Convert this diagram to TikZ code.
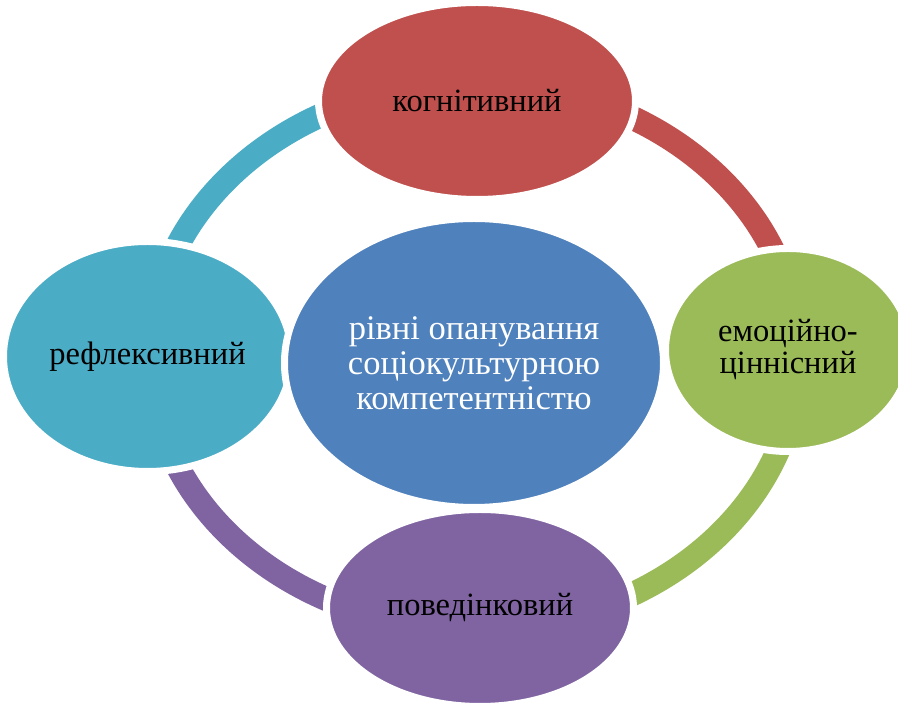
\documentclass[tikz,border=0pt]{standalone}
\usepackage{fontspec}
\setmainfont{Liberation Serif}
\usetikzlibrary{shapes.geometric}
\definecolor{cred}{HTML}{C0504D}
\definecolor{cgreen}{HTML}{9BBB59}
\definecolor{cpurple}{HTML}{8064A2}
\definecolor{ccyan}{HTML}{4BACC6}
\definecolor{cblue}{HTML}{4F81BD}
\begin{document}
\begin{tikzpicture}[x=1pt,y=1pt,
  bub/.style={ellipse, draw=white, line width=7pt, inner sep=0pt, align=center,
    font=\fontsize{32.5}{32}\selectfont, text=black},
  ring/.style={line width=24pt}]
\clip (0,0) rectangle (898,704);
\coordinate (o) at (474,348);
\draw[ring,cred] (o) ++(90:324pt and 273pt) arc[start angle=90, end angle=0, x radius=324pt, y radius=273pt];
\draw[ring,cgreen] (o) ++(0:324pt and 273pt) arc[start angle=0, end angle=-90, x radius=324pt, y radius=273pt];
\draw[ring,cpurple] (o) ++(-90:324pt and 273pt) arc[start angle=-90, end angle=-180, x radius=324pt, y radius=273pt];
\draw[ring,ccyan] (o) ++(180:324pt and 273pt) arc[start angle=180, end angle=90, x radius=324pt, y radius=273pt];
\node[bub, fill=cred, minimum width=317pt, minimum height=197pt] (t) at (477,603) {когнітивний};
\node[bub, fill=cgreen, minimum width=245pt, minimum height=203pt] (r) at (788,354) {емоційно-\\ціннісний};
\node[bub, fill=cpurple, minimum width=307pt, minimum height=197pt] (b) at (480,96) {поведінковий};
\node[bub, fill=ccyan, minimum width=288pt, minimum height=230pt] (l) at (147.5,347.5) {рефлексивний};
\node[bub, fill=cblue, minimum width=379pt, minimum height=289pt, text=white,
  font=\fontsize{34.5}{35}\selectfont] (c) at (474,341) {рівні опанування\\соціокультурною\\компетентністю};
\end{tikzpicture}
\end{document}
